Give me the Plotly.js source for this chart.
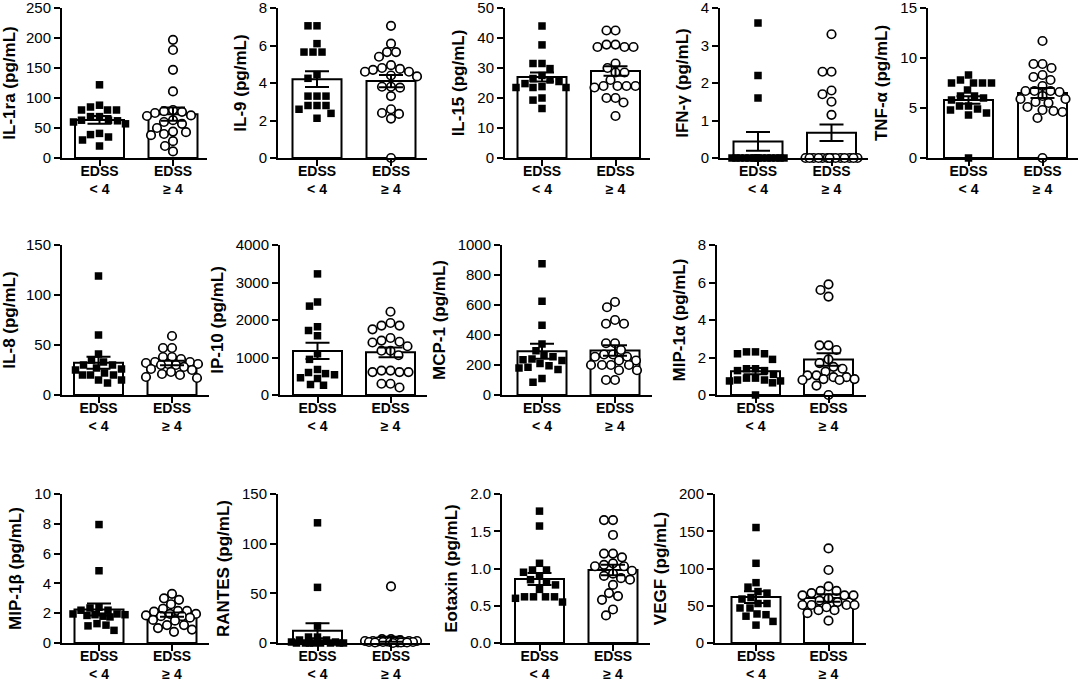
<!DOCTYPE html>
<html><head><meta charset="utf-8">
<script src="https://cdn.plot.ly/plotly-3.0.1.min.js"></script>
<style>body{margin:0;background:#fff}#chart{width:1084px;height:683px}</style>
</head><body><div id="chart"></div>
<script>
// ---------------- DATA ----------------
const analytes = ["IL-1ra","IL-9","IL-15","IFN-γ","TNF-α","IL-8","IP-10","MCP-1","MIP-1α","MIP-1β","RANTES","Eotaxin","VEGF"];
const groupLabels = ["<b>EDSS</b><br><b>&lt; 4</b>", "<b>EDSS</b><br><b>≥ 4</b>"];
const yMax  = [250, 8, 50, 4, 15, 150, 4000, 1000, 8, 10, 150, 2, 200];
const yStep = [50, 2, 10, 1, 5, 50, 1000, 200, 2, 2, 50, 0.5, 50];

const meanLt4 = [63.5, 4.2, 27, 0.44, 5.8, 32.3, 1175, 292, 1.27, 2.25, 12.4, 0.86, 61.6];
const semLt4  = [6.5, 0.42, 1.5, 0.25, 0.37, 6, 215, 50, 0.17, 0.4, 7.5, 0.08, 8];
const meanGe4 = [73, 4.1, 29, 0.67, 6.5, 32, 1138, 296, 1.89, 1.9, 3.8, 0.98, 60.5];
const semGe4  = [11, 0.33, 1.6, 0.22, 0.5, 2.3, 130, 35, 0.33, 0.14, 2.6, 0.07, 5];

const il1ra_lt4 = [122, 88, 85, 80, 80, 80, 69, 69, 63, 63, 62, 60, 57, 41, 39, 35, 30, 20];
const il1ra_ge4 = [197, 180, 147, 111, 80, 78, 77, 75, 71, 70, 63, 60, 57, 50, 44, 43, 40, 38, 28, 20, 11];
const il9_lt4 = [7.05, 7.05, 6.1, 5.65, 5.65, 5.65, 4.45, 4.25, 3.3, 3.3, 3.3, 2.8, 2.8, 2.8, 2.6, 2.38, 2.12];
const il9_ge4 = [7.05, 6.1, 5.65, 5.65, 5.4, 4.95, 4.8, 4.75, 4.7, 4.6, 4.6, 4.4, 4.35, 3.8, 3.8, 3.75, 3.3, 2.6, 2.4, 2.35, 2.1, 0];
const il15_lt4 = [44, 37.7, 31.5, 31.5, 29.8, 27.5, 26.5, 26, 25.5, 24.8, 23.8, 23.5, 23.5, 23.5, 20, 19.3, 16.5];
const il15_ge4 = [42.5, 42.5, 37.8, 37.8, 37, 37, 37, 31.5, 30, 28.5, 28.5, 26, 24, 24, 24, 24, 23.5, 20, 20, 18.5, 14];
const ifng_lt4 = [3.6, 2.2, 1.6, 0, 0, 0, 0, 0, 0, 0, 0, 0, 0, 0, 0, 0, 0];
const ifng_ge4 = [3.3, 2.3, 2.3, 1.8, 1.7, 1.5, 1.15, 0, 0, 0, 0, 0, 0, 0, 0, 0, 0, 0, 0, 0, 0];
const tnfa_lt4 = [8.3, 7.8, 7.5, 7.5, 7.5, 7.5, 6.8, 6.2, 6.2, 6.0, 5.8, 5.2, 5.2, 4.9, 4.8, 4.5, 4.3, 0];
const tnfa_ge4 = [11.7, 9.4, 9.4, 9.0, 8.3, 8.1, 7.8, 7.2, 6.7, 6.7, 6.7, 6.6, 6.2, 5.9, 5.9, 5.6, 5.5, 5.1, 4.8, 4.7, 4.6, 4.0, 0];
const il8_lt4 = [119, 60, 41, 35, 33, 30, 30, 27, 26, 25, 22, 20, 20, 20, 15, 15, 12];
const il8_ge4 = [59, 47, 47, 38, 38, 36, 33, 33, 32, 31, 31, 30, 30, 28, 26, 25, 23, 21, 20, 18, 17];
const ip10_lt4 = [3230, 2480, 2370, 1820, 1720, 1580, 1100, 950, 680, 600, 570, 540, 460, 440, 280, 260];
const ip10_ge4 = [2220, 1920, 1850, 1850, 1750, 1520, 1450, 1420, 1400, 1300, 1180, 1180, 1060, 650, 650, 610, 610, 610, 300, 300, 200];
const mcp1_lt4 = [875, 625, 465, 340, 295, 265, 255, 240, 235, 230, 210, 195, 185, 180, 170, 110, 85];
const mcp1_ge4 = [620, 585, 500, 475, 475, 345, 345, 300, 270, 270, 255, 255, 230, 230, 200, 200, 200, 200, 165, 165, 100, 100];
const mip1a_lt4 = [2.3, 2.3, 2.2, 2.2, 1.9, 1.4, 1.4, 1.3, 1.3, 1.1, 0.9, 0.9, 0.8, 0.8, 0.75, 0.75, 0.65, 0];
const mip1a_ge4 = [5.9, 5.6, 5.25, 2.65, 2.65, 2.4, 1.9, 1.7, 1.5, 1.4, 1.25, 1.05, 1.05, 0.95, 0.95, 0.85, 0.85, 0.8, 0.8, 0.5, 0];
const mip1b_lt4 = [7.95, 4.85, 2.4, 2.35, 2.2, 2.2, 1.95, 1.95, 1.9, 1.9, 1.85, 1.8, 1.75, 1.3, 1.2, 1.15, 0.85];
const mip1b_ge4 = [3.3, 3.0, 2.9, 2.6, 2.3, 2.15, 2.15, 2.1, 1.95, 1.95, 1.85, 1.8, 1.8, 1.7, 1.55, 1.5, 1.2, 1.2, 1.0, 0.9, 0.75];
const rantes_lt4 = [121, 56, 17, 6, 6, 3, 3, 1, 1, 0, 0, 0, 0, 0, 0, 0, 0];
const rantes_ge4 = [57, 4, 4, 3, 2, 2, 2, 2, 1.5, 1.5, 1.5, 1, 1, 1, 1, 1, 0.5, 0.5, 0.5, 0.5, 0];
const eotaxin_lt4 = [1.77, 1.57, 1.07, 0.98, 0.98, 0.95, 0.9, 0.85, 0.82, 0.78, 0.72, 0.62, 0.62, 0.62, 0.62, 0.6, 0.55];
const eotaxin_ge4 = [1.65, 1.65, 1.45, 1.2, 1.2, 1.15, 1.07, 1.05, 1.03, 1.03, 0.97, 0.93, 0.9, 0.87, 0.85, 0.78, 0.67, 0.63, 0.58, 0.45, 0.37];
const vegf_lt4 = [155, 107, 81, 75, 69, 67, 61, 59, 53, 53, 47, 47, 39, 38, 36, 29, 24];
const vegf_ge4 = [127, 98, 76, 70, 70, 67, 64, 64, 64, 60, 57, 55, 51, 51, 51, 51, 48, 44, 44, 40, 30];

const pointsLt4 = [il1ra_lt4, il9_lt4, il15_lt4, ifng_lt4, tnfa_lt4, il8_lt4, ip10_lt4, mcp1_lt4, mip1a_lt4, mip1b_lt4, rantes_lt4, eotaxin_lt4, vegf_lt4];
const pointsGe4 = [il1ra_ge4, il9_ge4, il15_ge4, ifng_ge4, tnfa_ge4, il8_ge4, ip10_ge4, mcp1_ge4, mip1a_ge4, mip1b_ge4, rantes_ge4, eotaxin_ge4, vegf_ge4];

// ---------------- LAYOUT GEOMETRY (pixels) ----------------
const W = 1084, H = 683;
// [y-axis x, centre of bar 1, centre of bar 2, x-axis end, row]
const geom = [
  [62, 99.5, 173, 207, 0],
  [278, 317, 391, 427, 0],
  [505, 542, 615.5, 650, 0],
  [720, 758, 831.5, 868, 0],
  [928, 968.5, 1042.5, 1078, 0],
  [62, 98.5, 172, 209, 1],
  [280, 317.5, 390.5, 427, 1],
  [502, 542, 615, 652, 1],
  [717, 755.5, 828.5, 866, 1],
  [62, 99, 172, 209, 2],
  [278, 317.5, 391, 430, 2],
  [502, 539.5, 613, 650, 2],
  [715, 756, 828.5, 866, 2]
];
const rows = [[8, 158], [245, 395], [494, 643]];
const barPx = 49;

function swarm(values, pxY, pxX, diam, limit) {
  const idx = values.map((v, i) => i).sort((a, b) => values[b] - values[a]);
  const placed = [];
  const offs = new Array(values.length);
  for (const i of idx) {
    const y = values[i] * pxY;
    let best = 0, bestScore = -Infinity;
    for (let k = 0; k <= limit * 2; k++) {
      const o = (k % 2 === 0 ? 1 : -1) * Math.ceil(k / 2);
      let minD = Infinity;
      for (const p of placed) {
        const d = Math.hypot(p.x - o, p.y - y);
        if (d < minD) minD = d;
      }
      if (minD >= diam) { best = o; break; }
      if (minD > bestScore + 0.01) { bestScore = minD; best = o; }
    }
    placed.push({x: best, y: y});
    offs[i] = best / pxX;
  }
  return offs;
}

const FONT = "Liberation Sans, Arial, Helvetica, sans-serif";
const traces = [];
const layout = {
  width: W, height: H,
  margin: {l: 0, r: 0, t: 0, b: 0},
  paper_bgcolor: "#ffffff", plot_bgcolor: "rgba(0,0,0,0)",
  showlegend: false,
  font: {family: FONT, color: "#000", size: 15}
};

analytes.forEach((name, i) => {
  const s = i === 0 ? "" : String(i + 1);
  const [x0, c1, c2, xe, r] = geom[i];
  const [yt, yb] = rows[r];
  const D = c2 - c1;
  const pxY = (yb - yt) / yMax[i];
  const xa = "x" + s, ya = "y" + s;

  traces.push({
    type: "bar", x: [0, 1], y: [meanLt4[i], meanGe4[i]], width: barPx / D,
    marker: {color: "#ffffff", line: {color: "#000", width: 2}},
    xaxis: xa, yaxis: ya, hoverinfo: "skip"
  });
  const o1 = swarm(pointsLt4[i], pxY, D, 9, 26);
  traces.push({
    type: "scatter", mode: "markers",
    x: o1.map(o => 0 + o), y: pointsLt4[i],
    marker: {symbol: "square", size: 7.5, color: "#000"},
    cliponaxis: false, xaxis: xa, yaxis: ya, hoverinfo: "skip"
  });
  const o2 = swarm(pointsGe4[i], pxY, D, 9, 26);
  traces.push({
    type: "scatter", mode: "markers",
    x: o2.map(o => 1 + o), y: pointsGe4[i],
    marker: {symbol: "circle", size: 8.5, color: "#ffffff", line: {color: "#000", width: 1.7}},
    cliponaxis: false, xaxis: xa, yaxis: ya, hoverinfo: "skip"
  });
  traces.push({
    type: "scatter", mode: "markers", x: [0, 1], y: [meanLt4[i], meanGe4[i]],
    marker: {size: 1, opacity: 0},
    error_y: {type: "data", array: [semLt4[i], semGe4[i]], color: "#000", thickness: 2, width: 12},
    cliponaxis: false, xaxis: xa, yaxis: ya, hoverinfo: "skip"
  });

  layout["xaxis" + s] = {
    domain: [x0 / W, xe / W],
    range: [-(c1 - x0) / D, 1 + (xe - c2) / D],
    anchor: ya, showline: true, linecolor: "#000", linewidth: 2,
    ticks: "outside", ticklen: 6, tickwidth: 2, tickcolor: "#000",
    tickmode: "array", tickvals: [0, 1], ticktext: groupLabels,
    ticklabelstandoff: -7, ticklabeloverflow: "allow",
    tickfont: {size: 14, family: FONT, color: "#000"},
    showgrid: false, zeroline: false, fixedrange: true
  };
  layout["yaxis" + s] = {
    domain: [1 - yb / H, 1 - yt / H],
    range: [0, yMax[i]],
    anchor: xa, showline: true, linecolor: "#000", linewidth: 2,
    ticks: "outside", ticklen: 6, tickwidth: 2, tickcolor: "#000",
    tickmode: "linear", tick0: 0, dtick: yStep[i],
    tickformat: yStep[i] < 1 ? ".1f" : "d",
    ticklabeloverflow: "allow",
    tickfont: {size: 15, family: FONT, color: "#000"},
    title: {text: "<b>" + name + " (pg/mL)</b>", font: {size: 17, family: FONT, color: "#000"}, standoff: 8},
    showgrid: false, zeroline: false, fixedrange: true
  };
});

Plotly.newPlot("chart", traces, layout, {staticPlot: true, displayModeBar: false});
</script>
</body></html>
